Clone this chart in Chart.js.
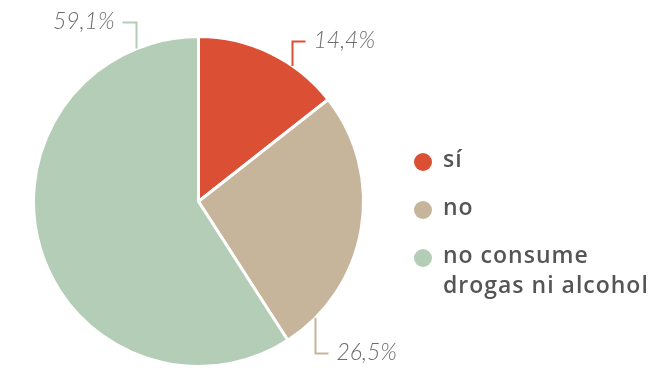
<!DOCTYPE html>
<html>
<head>
<meta charset="utf-8">
<script src="https://cdn.jsdelivr.net/npm/chart.js@4/dist/chart.umd.min.js"></script>
<style>
  html, body { margin: 0; padding: 0; background: #fff; }
  #wrap { width: 670px; height: 368px; position: relative; }
</style>
</head>
<body>
<div id="wrap"><canvas id="pie"></canvas></div>
<script>
const categories = ['sí', 'no', 'no consume drogas ni alcohol'];
const legendLines = [['sí'], ['no'], ['no consume', 'drogas ni alcohol']];
const shares = [14.4, 26.5, 59.1];
const valueLabels = ['14,4%', '26,5%', '59,1%'];
const colors = ['#db4f35', '#c6b59b', '#b4cdb6'];

// leader line per slice: elbow offset from pie centre, and which way the label sits
const leaders = [
  { dx: 94, dy: -160, arm: 13, side: 1 },
  { dx: 117, dy: 152, arm: 13, side: 1 },
  { dx: -62, dy: -179, arm: -14, side: -1 }
];

const labelPlugin = {
  id: 'pieLabels',
  afterDatasetsDraw(chart) {
    const ctx = chart.ctx;
    const arcs = chart.getDatasetMeta(0).data;
    ctx.save();
    arcs.forEach((arc, i) => {
      const L = leaders[i];
      const r = arc.outerRadius;
      const ex = arc.x + L.dx;
      const ey = arc.y + L.dy;
      const edgeY = arc.y + Math.sign(L.dy) * Math.sqrt(Math.max(r * r - L.dx * L.dx, 0));
      ctx.strokeStyle = colors[i];
      ctx.lineWidth = 2;
      ctx.beginPath();
      ctx.moveTo(ex, edgeY);
      ctx.lineTo(ex, ey);
      ctx.lineTo(ex + L.arm, ey);
      ctx.stroke();
      ctx.font = 'italic 300 23px Lato';
      ctx.fillStyle = '#6c6c6c';
      ctx.textBaseline = 'middle';
      ctx.textAlign = L.side > 0 ? 'left' : 'right';
      ctx.fillText(valueLabels[i], ex + L.arm + L.side * 8, ey - 1);
    });

    // legend
    ctx.font = '600 23px "Open Sans"';
    ctx.letterSpacing = '1px';
    ctx.textAlign = 'left';
    ctx.textBaseline = 'middle';
    const rowY = [162, 210, 258];
    legendLines.forEach((lines, i) => {
      ctx.fillStyle = colors[i];
      ctx.beginPath();
      ctx.arc(423, rowY[i], 9, 0, Math.PI * 2);
      ctx.fill();
      ctx.fillStyle = '#555555';
      lines.forEach((t, k) => ctx.fillText(t, 443, rowY[i] - 2 + k * 30));
    });
    ctx.restore();
  }
};

new Chart(document.getElementById('pie'), {
  type: 'pie',
  data: {
    labels: categories,
    datasets: [{
      data: shares,
      backgroundColor: colors,
      borderColor: '#ffffff',
      borderWidth: 3
    }]
  },
  options: {
    responsive: true,
    maintainAspectRatio: false,
    animation: false,
    layout: { padding: { left: 31, right: 304, top: 35, bottom: -2 } },
    plugins: {
      legend: { display: false },
      tooltip: { enabled: false }
    }
  },
  plugins: [labelPlugin]
});
</script>
</body>
</html>
